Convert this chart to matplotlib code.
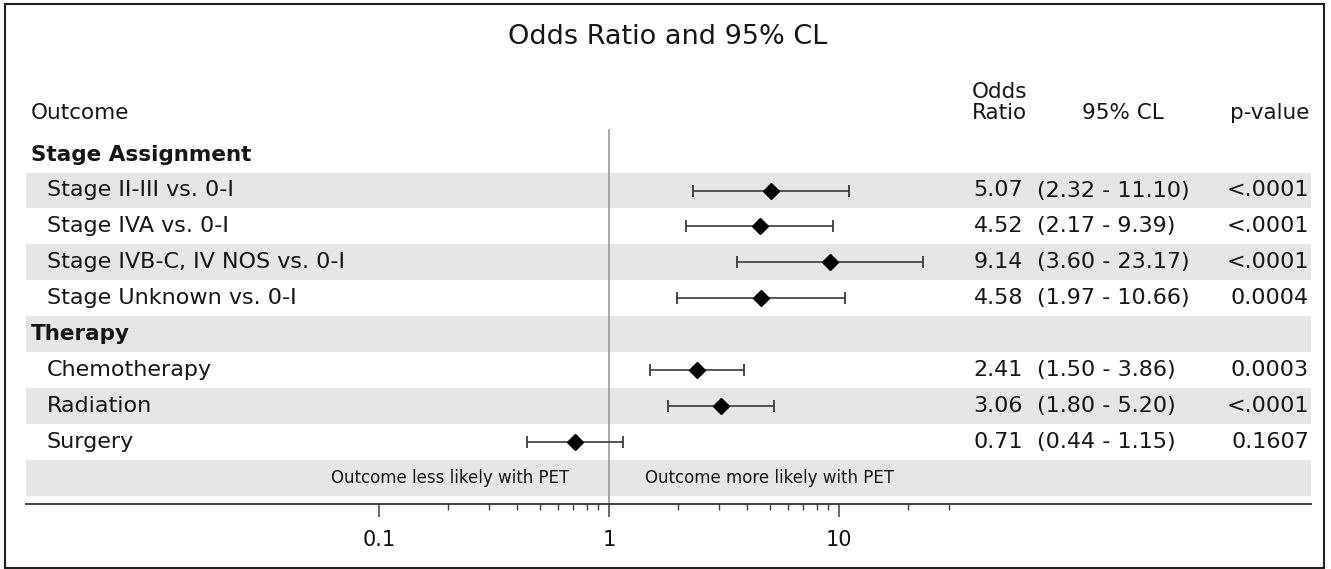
import matplotlib
matplotlib.use("Agg")
import matplotlib.pyplot as plt
import matplotlib.transforms as mtransforms
from matplotlib.patches import Rectangle
from matplotlib.ticker import FixedLocator, NullFormatter

plt.rcParams['font.family'] = ['DejaVu Sans']

# ---------------- data ----------------
row_labels = ["Stage Assignment", "Stage II-III vs. 0-I", "Stage IVA vs. 0-I",
              "Stage IVB-C, IV NOS vs. 0-I", "Stage Unknown vs. 0-I",
              "Therapy", "Chemotherapy", "Radiation", "Surgery"]
is_group = [True, False, False, False, False, True, False, False, False]
odds_ratio = [None, 5.07, 4.52, 9.14, 4.58, None, 2.41, 3.06, 0.71]
ci_low = [None, 2.32, 2.17, 3.60, 1.97, None, 1.50, 1.80, 0.44]
ci_high = [None, 11.10, 9.39, 23.17, 10.66, None, 3.86, 5.20, 1.15]
p_values = ["", "<.0001", "<.0001", "<.0001", "0.0004", "", "0.0003", "<.0001", "0.1607"]
major_ticks = [0.1, 1, 10]
major_labels = ["0.1", "1", "10"]
minor_ticks = [0.2, 0.3, 0.4, 0.5, 0.6, 0.7, 0.8, 0.9,
               2, 3, 4, 5, 6, 7, 8, 9, 20, 30]
title = "Odds Ratio and 95% CL"
footer_left = "Outcome less likely with PET"
footer_right = "Outcome more likely with PET"

# ---------------- layout ----------------
W, H = 1331, 569
fig = plt.figure(figsize=(W / 100, H / 100), dpi=100)

ax_left, ax_right = 26, 1311
ax_top, ax_bot = 129, 504
ax = fig.add_axes([ax_left / W, 1 - ax_bot / H, (ax_right - ax_left) / W, (ax_bot - ax_top) / H])

def px_to_val(px):
    return 10 ** ((px - 609) / 230.0)

ax.set_xscale('log')
ax.set_xlim(px_to_val(ax_left), px_to_val(ax_right))
n_rows = len(row_labels)
footer_row = n_rows
pitch = 35.9
row0 = 154.6
ax.set_ylim((ax_bot - row0) / pitch, (ax_top - row0) / pitch)

for r in range(1, footer_row + 1, 2):
    ax.axhspan(r - 0.5, r + 0.5, color='#e6e6e6', lw=0, zorder=0)

ax.axvline(1, color='#9a9a9a', lw=1.2, zorder=1)

for i, (o, lo, hi) in enumerate(zip(odds_ratio, ci_low, ci_high)):
    if o is None:
        continue
    ax.errorbar([o], [i], xerr=[[o - lo], [hi - o]], fmt='none', ecolor='#3a3a3a',
                elinewidth=1.2, capsize=4.5, capthick=1.3, zorder=2)
    ax.plot([o], [i], marker='D', ms=8.5, color='black', ls='none', zorder=3)

for s in ['top', 'left', 'right']:
    ax.spines[s].set_visible(False)
ax.spines['bottom'].set_color('#333333')
ax.spines['bottom'].set_linewidth(1.3)
ax.set_yticks([])
ax.xaxis.set_major_locator(FixedLocator(major_ticks))
ax.xaxis.set_minor_locator(FixedLocator(minor_ticks))
ax.set_xticklabels(major_labels)
ax.xaxis.set_minor_formatter(NullFormatter())
ax.tick_params(axis='x', which='major', length=9.5, width=1.1, color='#444444',
               labelsize=15, pad=9, labelcolor='#111111')
ax.tick_params(axis='x', which='minor', length=4.5, width=1.0, color='#444444')

def put(xpx, row, s, **kw):
    t = mtransforms.blended_transform_factory(fig.transFigure, ax.transData)
    ax.text(xpx / W, row, s, transform=t, va='center', clip_on=False, **kw)

fs = 16
tc = '#161616'
for i, lab in enumerate(row_labels):
    if is_group[i]:
        put(31, i, lab, fontsize=fs - 0.5, fontweight='bold', color=tc)
    else:
        put(47, i, lab, fontsize=fs, color=tc)
    if odds_ratio[i] is not None:
        put(1023, i, f"{odds_ratio[i]:.2f}", fontsize=fs, ha='right', color=tc)
        put(1037, i, f"({ci_low[i]:.2f} - {ci_high[i]:.2f})", fontsize=fs, ha='left', color=tc)
        put(1309, i, p_values[i], fontsize=fs, ha='right', color=tc)

put(569, footer_row, footer_left, fontsize=12, ha='right', color=tc)
put(645, footer_row, footer_right, fontsize=12, ha='left', color=tc)

def fput(xpx, ypx, s, **kw):
    fig.text(xpx / W, 1 - ypx / H, s, va='center', **kw)

fput(31, 113, "Outcome", fontsize=15.5, ha='left', color=tc)
fput(972, 92, "Odds", fontsize=15.5, ha='left', color=tc)
fput(972, 113, "Ratio", fontsize=15.5, ha='left', color=tc)
fput(1123, 113, "95% CL", fontsize=15.5, ha='center', color=tc)
fput(1309, 113, "p-value", fontsize=15.5, ha='right', color=tc)
fput(668, 37, title, fontsize=19.5, ha='center', color=tc)

fig.patches.append(Rectangle((5 / W, 1 - 568 / H), (1324 - 5) / W, (568 - 4) / H,
                             transform=fig.transFigure, fill=False,
                             edgecolor='#222222', lw=1.5))

fig.savefig('out.png', dpi=100)
